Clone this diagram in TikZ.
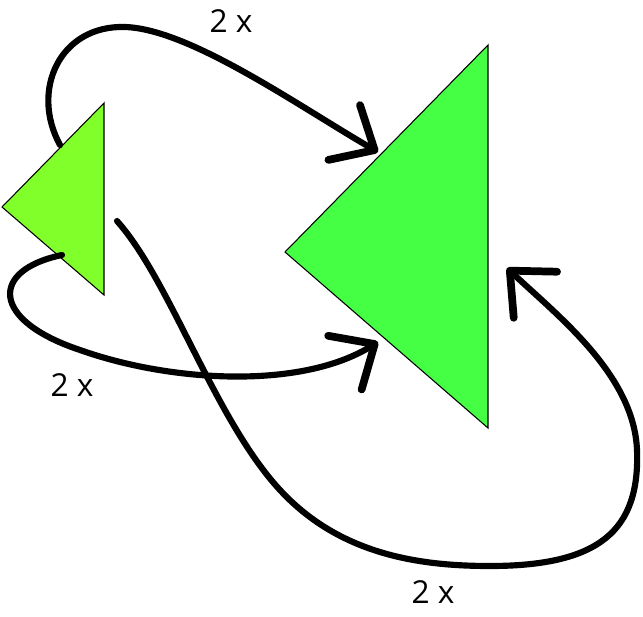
\documentclass[tikz,border=0pt]{standalone}
\usepackage{fontspec}
\setmainfont{Open Sans}
\usetikzlibrary{arrows.meta}
\definecolor{limegreen}{HTML}{80FF2A}
\definecolor{brightgreen}{HTML}{44FF44}

\begin{document}
\begin{tikzpicture}[x=0.02cm, y=-0.02cm,
    tri/.style={draw=black, line width=0.6pt, line join=miter},
    loop/.style={line width=3.5pt, line cap=round,
        -{Straight Barb[round, length=20pt, width=36pt, line width=4.4pt]}},
    count/.style={font=\fontsize{18}{18}\selectfont, inner sep=0pt}
]
    \useasboundingbox (0,0) rectangle (643,616);

    % small triangle
    \coordinate (sl) at (2,207);
    \coordinate (st) at (104,103);
    \coordinate (sb) at (104,295);
    \filldraw[tri, fill=limegreen] (sl) -- (st) -- (sb) -- cycle;

    % big triangle
    \coordinate (bl) at (285,252);
    \coordinate (bt) at (488,45);
    \coordinate (bb) at (488,428);
    \filldraw[tri, fill=brightgreen] (bl) -- (bt) -- (bb) -- cycle;

    % loop ends
    \coordinate (topfrom) at (60,145);
    \coordinate (topto) at (378,152);
    \coordinate (midfrom) at (62,255);
    \coordinate (midto) at (378,342);
    \coordinate (lowfrom) at (117,221);
    \coordinate (lowto) at (507,268);

    \draw[loop] (topfrom) .. controls (30,90) and (60,25) .. (125,27)
        .. controls (190,29) and (300,107) .. (topto);
    \draw[loop] (midfrom) .. controls (-10,270) and (-10,320) .. (80,350)
        .. controls (170,382) and (301,390) .. (midto);
    \draw[loop] (lowfrom) .. controls (170,280) and (215,420) .. (280,490)
        .. controls (340,555) and (420,566) .. (490,566)
        .. controls (600,566) and (640,530) .. (637,450)
        .. controls (634,375) and (558,316) .. (lowto);

    \node[count] (toplabel) at (231,21) {2 x};
    \node[count] (midlabel) at (72,385) {2 x};
    \node[count] (lowlabel) at (433,592) {2 x};
\end{tikzpicture}
\end{document}
